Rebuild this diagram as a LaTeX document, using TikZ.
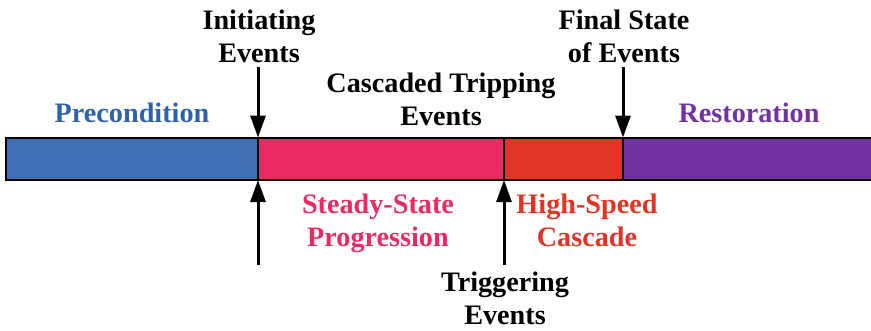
\documentclass[tikz,border=0pt]{standalone}
\usepackage{fontspec}
\setmainfont{Liberation Serif}
\usetikzlibrary{arrows.meta}

\definecolor{preblue}{HTML}{3F70B4}
\definecolor{pretext}{HTML}{2F62AC}
\definecolor{sspink}{HTML}{EA2B63}
\definecolor{hsred}{HTML}{E03424}
\definecolor{restpurple}{HTML}{7232A0}

\tikzset{
  seg/.style={draw=black, line width=2pt, rectangle, inner sep=0pt, outer sep=0pt,
              minimum height=42.5pt, anchor=north west},
  lbl/.style={font=\fontsize{28.2}{33}\selectfont\bfseries, align=center,
              inner sep=0pt, anchor=base},
  evarrow/.style={line width=3pt, -{Triangle[length=22pt,width=15pt]}}
}

\begin{document}
\begin{tikzpicture}[x=1pt, y=-1pt]
  \useasboundingbox (0,0) rectangle (871,330);

  % phase bar
  \node[seg, fill=preblue,    minimum width=252pt] (pre)  at (6,137.5) {};
  \node[seg, fill=sspink,     minimum width=246pt] (ss)   at (258,137.5) {};
  \node[seg, fill=hsred,      minimum width=119pt] (hs)   at (504,137.5) {};
  \node[seg, fill=restpurple, minimum width=252pt] (rest) at (623,137.5) {};

  % free ends of the event arrows
  \coordinate (initTop) at (258,67);
  \coordinate (initBot) at (258,265);
  \coordinate (trigBot) at (504,265);
  \coordinate (finTop)  at (623,67);

  \draw[evarrow] (initTop) -- (pre.north east);
  \draw[evarrow] (initBot) -- (pre.south east);
  \draw[evarrow] (trigBot) -- (ss.south east);
  \draw[evarrow] (finTop)  -- (hs.north east);

  % phase and event labels (anchored at the baseline of the last line)
  \node[lbl, text=pretext]    (lpre)  at (132,122) {Precondition};
  \node[lbl, text=restpurple] (lrest) at (749,122) {Restoration};
  \node[lbl] (linit) at (259,62) {Initiating\\Events};
  \node[lbl] (lfin)  at (624,62) {Final State\\of Events};
  \node[lbl] (lcasc) at (441,125) {Cascaded Tripping\\Events};
  \node[lbl, text=sspink] (lss) at (378,246) {Steady-State\\Progression};
  \node[lbl, text=hsred]  (lhs) at (587,246) {High-Speed\\Cascade};
  \node[lbl] (ltrig) at (505,324) {Triggering\\Events};
\end{tikzpicture}
\end{document}
